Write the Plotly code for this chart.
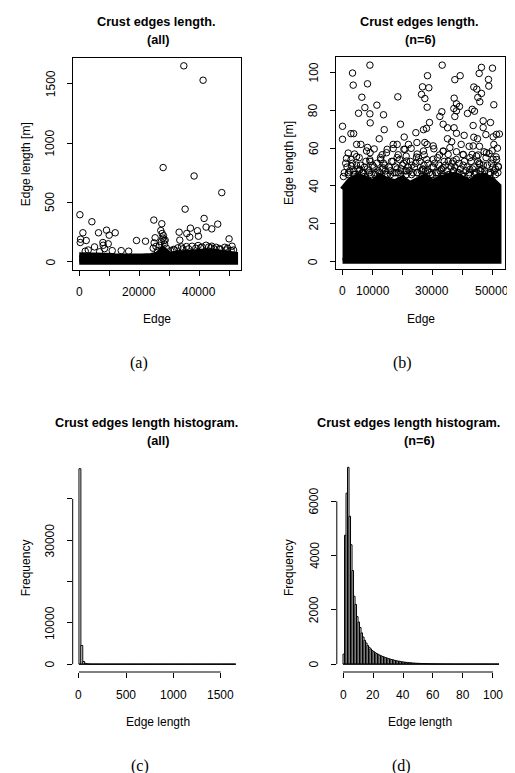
import plotly.graph_objects as go

W, H = 515, 773
FONT = "Liberation Sans"
SERIF = "Liberation Serif"

# ---------------- data ----------------
n_edges_a = 52000
n_edges_b = 52000
band_bottom = 0.3

# (a) dense band upper envelope
a_env_x = [1, 3000, 6000, 9000, 12000, 15000, 18000, 21000, 24000, 26000, 27000, 27800,
           28500, 29200, 30000, 33000, 36000, 39000, 42000, 44000, 46000, 48000, 50000, 52000]
a_env_y = [55, 58, 56, 52, 48, 45, 45, 45, 50, 60, 85, 110,
           95, 70, 60, 70, 80, 85, 88, 90, 85, 75, 70, 62]
# (a) outliers
a_out_x = [34900, 41330, 28000, 38330, 47560, 35330, 220, 4220, 24890, 41670, 46220, 42330,
           44220, 37110, 35890, 39440, 39780, 36890, 33330, 33560, 27560, 27220, 27670, 28100,
           1220, 6440, 9110, 10000, 12000, 440, 2330, 330, 7890, 19110, 22110, 50000, 51000,
           48560, 25330, 25000, 28670, 5110, 8440, 42330, 44220, 45670, 39670, 37670, 35780,
           34110, 32890, 24670, 26110, 29110, 9670, 8000, 27900, 28300, 27400, 28500, 26800,
           25600, 40500, 43200, 45000, 47000, 49500, 51500, 3000, 14000, 16500, 31500, 36500,
           30500, 31800, 34600, 38900, 41000, 43900, 46800, 49000, 50700, 2000, 6800, 11000]
a_out_y = [1650, 1529, 794, 723, 583, 444, 397, 338, 352, 366, 318, 293,
           278, 284, 239, 262, 216, 208, 250, 183, 321, 264, 239, 220,
           245, 245, 267, 225, 245, 191, 180, 163, 163, 180, 174, 194, 132,
           123, 203, 160, 183, 126, 112, 140, 132, 123, 138, 132, 129,
           126, 118, 115, 95, 115, 152, 140, 200, 180, 170, 150, 140,
           130, 120, 125, 110, 105, 115, 100, 100, 95, 90, 105, 110,
           95, 100, 110, 115, 125, 118, 112, 100, 95, 90, 85, 95]

# (b) dense band upper envelope
b_env_x = [1, 2500, 5000, 7500, 10000, 12500, 15000, 17500, 20000, 22500, 25000,
           27500, 30000, 32500, 35000, 37500, 40000, 42500, 45000, 47500, 50000, 52000]
b_env_y = [38, 43, 45, 44, 42, 45, 43, 42, 44, 41, 43,
           45, 42, 44, 45, 46, 44, 42, 45, 45, 43, 40]
# (b) outliers
b_out_x = [9130, 33230, 3330, 46330, 50000, 45570, 28330, 39230, 37450, 48670, 3560, 8330,
           48780, 26670, 28780, 43780, 44780, 46330, 26330, 45110, 6440, 18440, 37230, 27450,
           45780, 38000, 7450, 11450, 28220, 39000, 37120, 50450, 38000, 33120, 43230, 44000,
           5330, 9120, 13670, 32450, 41670, 37450, 46900, 49330, 9230, 29000, 33560, 0,
           19330, 35000, 28000, 27000, 37200, 43560, 46900, 13900, 24450, 38000, 2800, 3700,
           47800, 51330, 52300, 50220, 40560, 43780, 20560, 0, 12230, 35000, 45000, 6110,
           4700, 18220, 22000, 24800, 27450, 28200, 36400, 39560, 42230, 45670, 50450, 51660,
           8330, 10560, 14890, 16890, 20450, 22890, 30450, 33560, 38000, 47220, 49890, 1890,
           4000, 9200, 13200, 18560, 21220, 24890, 27220, 32330, 35220, 40220, 43220, 45220,
           48890, 51220, 1330, 4670, 3000, 8000, 9120, 12670, 14670, 16900, 18230, 20800,
           21330, 24670, 27000, 30230, 30230, 33560, 35800, 36900, 40230, 43560, 44670, 45800,
           48000, 50230, 51900, 5800, 13570, 27000, 33560, 42450]
b_out_y = [104, 104, 99.8, 102.8, 102.4, 99.6, 98.4, 98.4, 96.3, 96.4, 93.4, 94.1,
           92.9, 92.5, 92, 92.4, 91.3, 89, 88.5, 86.9, 87, 87.2, 86.5, 86.3,
           84.6, 83.5, 81.5, 82.8, 81.7, 82.1, 81, 83, 79.8, 79.3, 80.6, 79.6,
           78.5, 78.2, 77.7, 76.8, 78.4, 76.8, 74.5, 73.6, 73.4, 73.6, 72.7, 71.6,
           72.7, 70.8, 70.5, 69.8, 70.8, 72, 70.9, 69.8, 68.2, 67.9, 67.7, 67.7,
           67.2, 67.3, 67.5, 66, 66.8, 65.8, 65.9, 64.7, 65, 65, 65, 62,
           62, 62, 62, 63, 63, 62, 63.4, 62, 61, 61, 62, 60,
           60.4, 59.6, 59.4, 59.8, 59.4, 59.9, 59.7, 58.3, 58.1, 58.1, 58.6, 57.4,
           56.9, 57.6, 56.5, 56.5, 55.8, 56.9, 56.5, 56.4, 56.7, 56.5, 56.7, 56.4,
           57.2, 55.4, 54.6, 55.5, 50.5, 58.5, 53.9, 55, 57.6, 62, 55, 59.4,
           53.2, 55.3, 58.5, 61.2, 54.1, 58.5, 60.3, 53.2, 56.7, 61.2, 55.8, 51.4,
           57.6, 54.1, 50.5, 48.7, 49.6, 48.7, 49.6, 48.7]
# (b) crowded circles just above the solid band
b_edge_x = [600, 1500, 2400, 3300, 4200, 5100, 6000, 6900, 7800, 8700, 9600, 10500,
            11400, 12300, 13200, 14100, 15000, 15900, 16800, 17700, 18600, 19500, 20400,
            21300, 22200, 23100, 24000, 24900, 25800, 26700, 27600, 28500, 29400, 30300,
            31200, 32100, 33000, 33900, 34800, 35700, 36600, 37500, 38400, 39300, 40200,
            41100, 42000, 42900, 43800, 44700, 45600, 46500, 47400, 48300, 49200, 50100,
            51000, 51800,
            1050, 1950, 2850, 3750, 4650, 5550, 6450, 7350, 8250, 9150, 10050, 10950,
            11850, 12750, 13650, 14550, 15450, 16350, 17250, 18150, 19050, 19950, 20850,
            21750, 22650, 23550, 24450, 25350, 26250, 27150, 28050, 28950, 29850, 30750,
            31650, 32550, 33450, 34350, 35250, 36150, 37050, 37950, 38850, 39750, 40650,
            41550, 42450, 43350, 44250, 45150, 46050, 46950, 47850, 48750, 49650, 50550,
            51400, 52000,
            300, 2000, 3800, 5500, 7300, 9000, 10800, 12500, 14300, 16000, 17800, 19500,
            21300, 23000, 24800, 26500, 28300, 30000, 31800, 33500, 35300, 37000, 38800,
            40500, 42300, 44000, 45800, 47500, 49300, 51000]
b_edge_y = [47, 50, 48, 52, 46, 49, 51, 47, 53, 48, 46, 50,
            52, 47, 49, 51, 46, 48, 53, 50, 47, 49, 52,
            46, 48, 51, 50, 47, 53, 49, 48, 52, 46, 50,
            47, 51, 49, 53, 48, 46, 52, 50, 47, 49, 51,
            48, 46, 53, 50, 47, 52, 49, 48, 51, 46, 50,
            49, 47,
            52, 46, 54, 48, 51, 55, 47, 50, 49, 53, 51, 47,
            48, 54, 52, 46, 50, 53, 47, 49, 54, 51, 48,
            50, 53, 47, 52, 55, 48, 51, 54, 47, 50, 52,
            55, 48, 46, 51, 53, 50, 48, 54, 52, 46, 53,
            50, 55, 49, 47, 53, 48, 51, 55, 47, 52, 48,
            54, 50,
            45, 47, 46, 48, 45, 47, 46, 45, 48, 46, 47, 45,
            48, 46, 47, 45, 48, 46, 47, 45, 46, 48, 47,
            45, 47, 46, 48, 45, 47, 46]

# (c) histogram, all edges (bin width 20)
c_breaks = list(range(0, 1680, 20))
c_counts = [47300, 4530, 650, 190, 85, 45, 28, 18, 14, 11,
            9, 7, 6, 4, 3, 3, 2, 2, 1, 1,
            0, 0, 1, 0, 0, 0, 0, 0, 0, 1,
            0, 0, 0, 0, 0, 0, 1, 0, 0, 1,
            0, 0, 0, 0, 0, 0, 0, 0, 0, 0,
            0, 0, 0, 0, 0, 0, 0, 0, 0, 0,
            0, 0, 0, 0, 0, 0, 0, 0, 0, 0,
            0, 0, 0, 0, 0, 0, 1, 0, 0, 0,
            0, 0, 1]

# (d) histogram, n=6 (bin width 1)
d_breaks = list(range(0, 105))
d_counts = [370, 4750, 6300, 7250, 5450, 4400, 3450, 2500, 2200, 1750,
            1550, 1350, 1150, 1000, 880, 780, 690, 620, 560, 500,
            460, 420, 390, 360, 330, 305, 280, 260, 240, 220,
            200, 185, 170, 155, 140, 125, 115, 105, 95, 85,
            78, 70, 63, 57, 52, 47, 42, 38, 34, 31,
            28, 25, 23, 21, 19, 17, 15, 14, 12, 11,
            10, 9, 9, 8, 7, 7, 6, 6, 5, 5,
            5, 4, 4, 4, 3, 3, 3, 3, 2, 2,
            2, 2, 2, 2, 2, 1, 1, 2, 1, 1,
            1, 1, 1, 1, 1, 1, 1, 1, 1, 1,
            0, 0, 1, 1]

a_xticks = [0, 10000, 20000, 30000, 40000, 50000]
a_xtext = ["0", "", "20000", "", "40000", ""]
a_yticks = [0, 500, 1000, 1500]
a_ytext = ["0", "500", "1000", "1500"]
b_xticks = [0, 10000, 20000, 30000, 40000, 50000]
b_xtext = ["0", "10000", "", "30000", "", "50000"]
b_yticks = [0, 20, 40, 60, 80, 100]
b_ytext = ["0", "20", "40", "60", "80", "100"]
c_xticks = [0, 500, 1000, 1500]
c_xtext = ["0", "500", "1000", "1500"]
c_yticks = [0, 10000, 20000, 30000, 40000]
c_ytext = ["0", "10000", "", "30000", ""]
d_xticks = [0, 20, 40, 60, 80, 100]
d_xtext = ["0", "20", "40", "60", "80", "100"]
d_yticks = [0, 2000, 4000, 6000]
d_ytext = ["0", "2000", "4000", "6000"]


# ---------------- helpers ----------------
def ext(lo, hi):
    r = hi - lo
    return [lo - 0.04 * r, hi + 0.04 * r]


def xdom(p0, p1):
    return [p0 / W, p1 / W]


def ydom(p0, p1):
    return [1 - p1 / H, 1 - p0 / H]


fig = go.Figure()


def add_band(env_x, env_y, n, xa, ya):
    xs = list(env_x) + [n, 1]
    ys = list(env_y) + [band_bottom, band_bottom]
    fig.add_trace(go.Scatter(x=xs, y=ys, mode="lines", fill="toself", fillcolor="black",
                             line=dict(color="black", width=6), hoverinfo="skip",
                             xaxis=xa, yaxis=ya, showlegend=False))


def add_points(px, py, xa, ya):
    fig.add_trace(go.Scatter(x=px, y=py, mode="markers",
                             marker=dict(symbol="circle-open", size=6.5, color="black",
                                         line=dict(width=1, color="black")),
                             xaxis=xa, yaxis=ya, showlegend=False))


def add_hist(breaks, counts, xa, ya):
    centers = [(breaks[i] + breaks[i + 1]) / 2 for i in range(len(counts))]
    widths = [breaks[i + 1] - breaks[i] for i in range(len(counts))]
    fig.add_trace(go.Bar(x=centers, y=counts, width=widths,
                         marker=dict(color="white", line=dict(color="black", width=1)),
                         xaxis=xa, yaxis=ya, showlegend=False))
    fig.add_trace(go.Scatter(x=[breaks[0], breaks[len(counts)]], y=[0, 0], mode="lines",
                             line=dict(color="black", width=1), hoverinfo="skip",
                             xaxis=xa, yaxis=ya, showlegend=False))


add_band(a_env_x, a_env_y, n_edges_a, "x", "y")
add_points(a_out_x, a_out_y, "x", "y")
add_band(b_env_x, b_env_y, n_edges_b, "x2", "y2")
add_points(b_edge_x, b_edge_y, "x2", "y2")
add_points(b_out_x, b_out_y, "x2", "y2")
add_hist(c_breaks, c_counts, "x3", "y3")
add_hist(d_breaks, d_counts, "x4", "y4")


def axis(dom, rng, vals, anchor, boxed):
    return dict(domain=dom, range=rng, tickmode="array", tickvals=vals,
                ticks="outside", ticklen=5, tickwidth=1, tickcolor="black",
                showticklabels=False, showgrid=False, zeroline=False, anchor=anchor,
                showline=boxed, mirror=boxed, linecolor="black", linewidth=1)


a_ymax = max(a_out_y + a_env_y)
b_ymax = max(b_out_y + b_env_y)

layout = dict(
    width=W, height=H, margin=dict(l=0, r=0, t=0, b=0),
    paper_bgcolor="white", plot_bgcolor="white",
    xaxis=axis(xdom(65, 233.3), ext(1, n_edges_a), a_xticks, "y", True),
    yaxis=axis(ydom(50, 261.7), ext(band_bottom, a_ymax), a_yticks, "x", True),
    xaxis2=axis(xdom(328.3, 496.7), ext(1, n_edges_b), b_xticks, "y2", True),
    yaxis2=axis(ydom(49.3, 260.7), ext(band_bottom, b_ymax), b_yticks, "x2", True),
    xaxis3=axis(xdom(64.7, 234), ext(c_breaks[0], c_breaks[-1]), c_xticks, "y3", False),
    yaxis3=axis(ydom(452.9, 664), ext(0, max(c_counts)), c_yticks, "x3", False),
    xaxis4=axis(xdom(328.8, 497.2), ext(d_breaks[0], d_breaks[-1]), d_xticks, "y4", False),
    yaxis4=axis(ydom(451.5, 664), ext(0, max(d_counts)), d_yticks, "x4", False),
    barmode="overlay",
)
fig.update_layout(**layout)

# R-style axis lines spanning first..last tick for the histograms
shapes = []
for xa, ya, xt, yt in [("x3", "y3", c_xticks, c_yticks), ("x4", "y4", d_xticks, d_yticks)]:
    shapes.append(dict(type="line", xref=xa, yref=ya + " domain", x0=xt[0], x1=xt[-1], y0=0, y1=0,
                       line=dict(color="black", width=1)))
    shapes.append(dict(type="line", xref=xa + " domain", yref=ya, x0=0, x1=0, y0=yt[0], y1=yt[-1],
                       line=dict(color="black", width=1)))
fig.update_layout(shapes=shapes)

tickfont = dict(family=FONT, size=12, color="black")


def tick_labels(xa, ya, xvals, xtext, yvals, ytext):
    # R-style tick labels: x labels below the axis, y labels rotated, parallel to the axis
    for v, t in zip(xvals, xtext):
        if t:
            fig.add_annotation(text=t, x=v, xref=xa, y=0, yref=ya + " domain",
                               xanchor="center", yanchor="middle", yshift=-22.5,
                               showarrow=False, font=tickfont)
    for v, t in zip(yvals, ytext):
        if t:
            fig.add_annotation(text=t, y=v, yref=ya, x=0, xref=xa + " domain",
                               xanchor="center", yanchor="middle", xshift=-22.5,
                               textangle=-90, showarrow=False, font=tickfont)


tick_labels("x", "y", a_xticks, a_xtext, a_yticks, a_ytext)
tick_labels("x2", "y2", b_xticks, b_xtext, b_yticks, b_ytext)
tick_labels("x3", "y3", c_xticks, c_xtext, c_yticks, c_ytext)
tick_labels("x4", "y4", d_xticks, d_xtext, d_yticks, d_ytext)


def ann(text, px, py, size=12, bold=False, family=FONT, angle=0):
    fig.add_annotation(text=("<b>%s</b>" % text) if bold else text, x=px / W, y=1 - py / H,
                       xref="paper", yref="paper", xanchor="center", yanchor="middle",
                       showarrow=False, textangle=angle,
                       font=dict(family=family, size=size, color="black"))


TS = 12.7
# titles (each line centred separately, as in the reference)
ann("Crust edges length.", 147.5, 14, size=TS, bold=True)
ann("(all)", 150, 31.7, size=TS, bold=True)
ann("Crust edges length.", 410.5, 14, size=TS, bold=True)
ann("(n=6)", 412, 31.7, size=TS, bold=True)
ann("Crust edges length histogram.", 138.5, 415, size=TS, bold=True)
ann("(all)", 150, 433.3, size=TS, bold=True)
ann("Crust edges length histogram.", 400, 415, size=TS, bold=True)
ann("(n=6)", 411.7, 433.3, size=TS, bold=True)
# axis titles
ann("Edge", 149.3, 311)
ann("Edge", 412.7, 311)
ann("Edge length", 150, 714)
ann("Edge length", 412.3, 714)
ann("Edge length [m]", 18.3, 156, angle=-90)
ann("Edge length [m]", 281, 155, angle=-90)
ann("Frequency", 18.3, 560, angle=-90)
ann("Frequency", 281, 560, angle=-90)
# sub-figure captions
ann("(a)", 130.7, 355, size=16, family=SERIF)
ann("(b)", 394, 355, size=16, family=SERIF)
ann("(c)", 131.7, 758, size=16, family=SERIF)
ann("(d)", 393.3, 758, size=16, family=SERIF)

fig.write_html("out.html")
